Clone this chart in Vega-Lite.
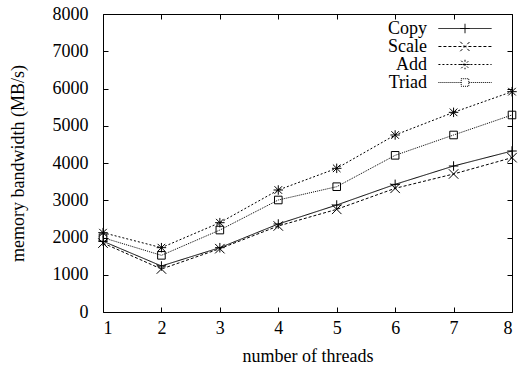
{
  "$schema": "https://vega.github.io/schema/vega-lite/v6.json",
  "width": 409,
  "height": 298,
  "autosize": {"type": "none"},
  "padding": {"left": 103, "top": 14, "right": 9, "bottom": 55},
  "background": "white",
  "config": {
    "view": {"stroke": "black", "strokeWidth": 1},
    "font": "Liberation Serif",
    "axis": {
      "labelFont": "Liberation Serif",
      "titleFont": "Liberation Serif",
      "labelFontSize": 18,
      "titleFontSize": 18,
      "titleFontWeight": "normal",
      "labelColor": "black",
      "titleColor": "black",
      "tickColor": "black",
      "domain": false,
      "grid": false,
      "tickSize": -5,
      "format": "d"
    },
    "legend": {
      "labelFont": "Liberation Serif",
      "labelFontSize": 18,
      "labelColor": "black"
    }
  },
  "data": {
    "values": [
      {"threads": 1, "series": "Copy", "bw": 1900},
      {"threads": 2, "series": "Copy", "bw": 1235},
      {"threads": 3, "series": "Copy", "bw": 1727},
      {"threads": 4, "series": "Copy", "bw": 2362},
      {"threads": 5, "series": "Copy", "bw": 2872},
      {"threads": 6, "series": "Copy", "bw": 3427},
      {"threads": 7, "series": "Copy", "bw": 3919},
      {"threads": 8, "series": "Copy", "bw": 4322},
      {"threads": 1, "series": "Scale", "bw": 1850},
      {"threads": 2, "series": "Scale", "bw": 1154},
      {"threads": 3, "series": "Scale", "bw": 1700},
      {"threads": 4, "series": "Scale", "bw": 2309},
      {"threads": 5, "series": "Scale", "bw": 2756},
      {"threads": 6, "series": "Scale", "bw": 3320},
      {"threads": 7, "series": "Scale", "bw": 3705},
      {"threads": 8, "series": "Scale", "bw": 4143},
      {"threads": 1, "series": "Add", "bw": 2130},
      {"threads": 2, "series": "Add", "bw": 1727},
      {"threads": 3, "series": "Add", "bw": 2398},
      {"threads": 4, "series": "Add", "bw": 3275},
      {"threads": 5, "series": "Add", "bw": 3857},
      {"threads": 6, "series": "Add", "bw": 4752},
      {"threads": 7, "series": "Add", "bw": 5360},
      {"threads": 8, "series": "Add", "bw": 5915},
      {"threads": 1, "series": "Triad", "bw": 1995},
      {"threads": 2, "series": "Triad", "bw": 1521},
      {"threads": 3, "series": "Triad", "bw": 2200},
      {"threads": 4, "series": "Triad", "bw": 3007},
      {"threads": 5, "series": "Triad", "bw": 3364},
      {"threads": 6, "series": "Triad", "bw": 4206},
      {"threads": 7, "series": "Triad", "bw": 4752},
      {"threads": 8, "series": "Triad", "bw": 5289}
    ]
  },
  "resolve": {
    "axis": {"x": "independent", "y": "independent"},
    "scale": {"shape": "independent", "strokeDash": "independent"}
  },
  "layer": [
    {
      "mark": {"type": "line", "stroke": "black", "strokeWidth": 1},
      "encoding": {
        "x": {
          "field": "threads", "type": "quantitative",
          "scale": {"domain": [1, 8], "nice": false, "zero": false},
          "axis": {"orient": "bottom", "values": [1, 2, 3, 4, 5, 6, 7, 8], "title": "number of threads", "labelPadding": 12, "titlePadding": 10}
        },
        "y": {
          "field": "bw", "type": "quantitative",
          "scale": {"domain": [0, 8000], "nice": false},
          "axis": {"orient": "left", "values": [0, 1000, 2000, 3000, 4000, 5000, 6000, 7000, 8000], "title": "memory bandwidth (MB/s)", "labelPadding": 20, "titlePadding": 25}
        },
        "strokeDash": {
          "field": "series", "type": "nominal",
          "scale": {"domain": ["Copy", "Scale", "Add", "Triad"], "range": [[1, 0], [3, 2], [2, 2], [1, 1]]},
          "legend": null
        },
        "detail": {"field": "series"}
      }
    },
    {
      "mark": {"type": "point", "filled": false, "stroke": "black", "strokeWidth": 1, "size": 90, "opacity": 1},
      "encoding": {
        "x": {
          "field": "threads", "type": "quantitative",
          "scale": {"domain": [1, 8], "nice": false, "zero": false},
          "axis": {"orient": "top", "values": [1, 2, 3, 4, 5, 6, 7, 8], "labels": false, "title": null}
        },
        "y": {
          "field": "bw", "type": "quantitative",
          "scale": {"domain": [0, 8000], "nice": false},
          "axis": {"orient": "right", "values": [0, 1000, 2000, 3000, 4000, 5000, 6000, 7000, 8000], "labels": false, "title": null}
        },
        "shape": {
          "field": "series", "type": "nominal",
          "scale": {"domain": ["Copy", "Scale", "Add", "Triad"], "range": ["M-1,0L1,0M0,-1L0,1", "M-1,-1L1,1M-1,1L1,-1", "M-1,0L1,0M0,-1L0,1M-0.8,-0.8L0.8,0.8M-0.8,0.8L0.8,-0.8", "M-0.8,-0.8L0.8,-0.8L0.8,0.8L-0.8,0.8Z"]},
          "legend": null
        }
      }
    },
    {
      "mark": {"type": "point", "filled": false, "stroke": "black", "strokeWidth": 1, "size": 90, "opacity": 0},
      "encoding": {
        "x": {
          "field": "threads", "type": "quantitative",
          "scale": {"domain": [1, 8], "nice": false, "zero": false},
          "axis": null
        },
        "y": {
          "field": "bw", "type": "quantitative",
          "scale": {"domain": [0, 8000], "nice": false},
          "axis": null
        },
        "shape": {
          "field": "series", "type": "nominal",
          "scale": {"domain": ["Copy", "Scale", "Add", "Triad"], "range": ["M-1,0L1,0M0,-1L0,1M-5.6,0L5.6,0", "M-1,-1L1,1M-1,1L1,-1M-5.6,0L5.6,0", "M-1,0L1,0M0,-1L0,1M-0.8,-0.8L0.8,0.8M-0.8,0.8L0.8,-0.8M-5.6,0L5.6,0", "M-0.8,-0.8L0.8,-0.8L0.8,0.8L-0.8,0.8ZM-5.6,0L-0.8,0M0.8,0L5.6,0"]},
          "legend": {
            "orient": "none", "legendX": 353, "legendY": 5.5, "title": null, "padding": 0,
            "symbolSize": 90, "symbolStrokeColor": "black", "symbolFillColor": "transparent", "symbolStrokeWidth": 1, "symbolOpacity": 1,
            "labelAlign": "right", "labelOffset": -47, "rowPadding": -2.5
          }
        },
        "strokeDash": {
          "field": "series", "type": "nominal",
          "scale": {"domain": ["Copy", "Scale", "Add", "Triad"], "range": [[1, 0], [3, 2], [2, 2], [1, 1]]},
          "legend": {
            "orient": "none", "legendX": 353, "legendY": 5.5, "title": null, "padding": 0,
            "symbolSize": 90, "symbolStrokeColor": "black", "symbolFillColor": "transparent", "symbolStrokeWidth": 1, "symbolOpacity": 1,
            "labelAlign": "right", "labelOffset": -47, "rowPadding": -2.5
          }
        }
      }
    }
  ]
}
